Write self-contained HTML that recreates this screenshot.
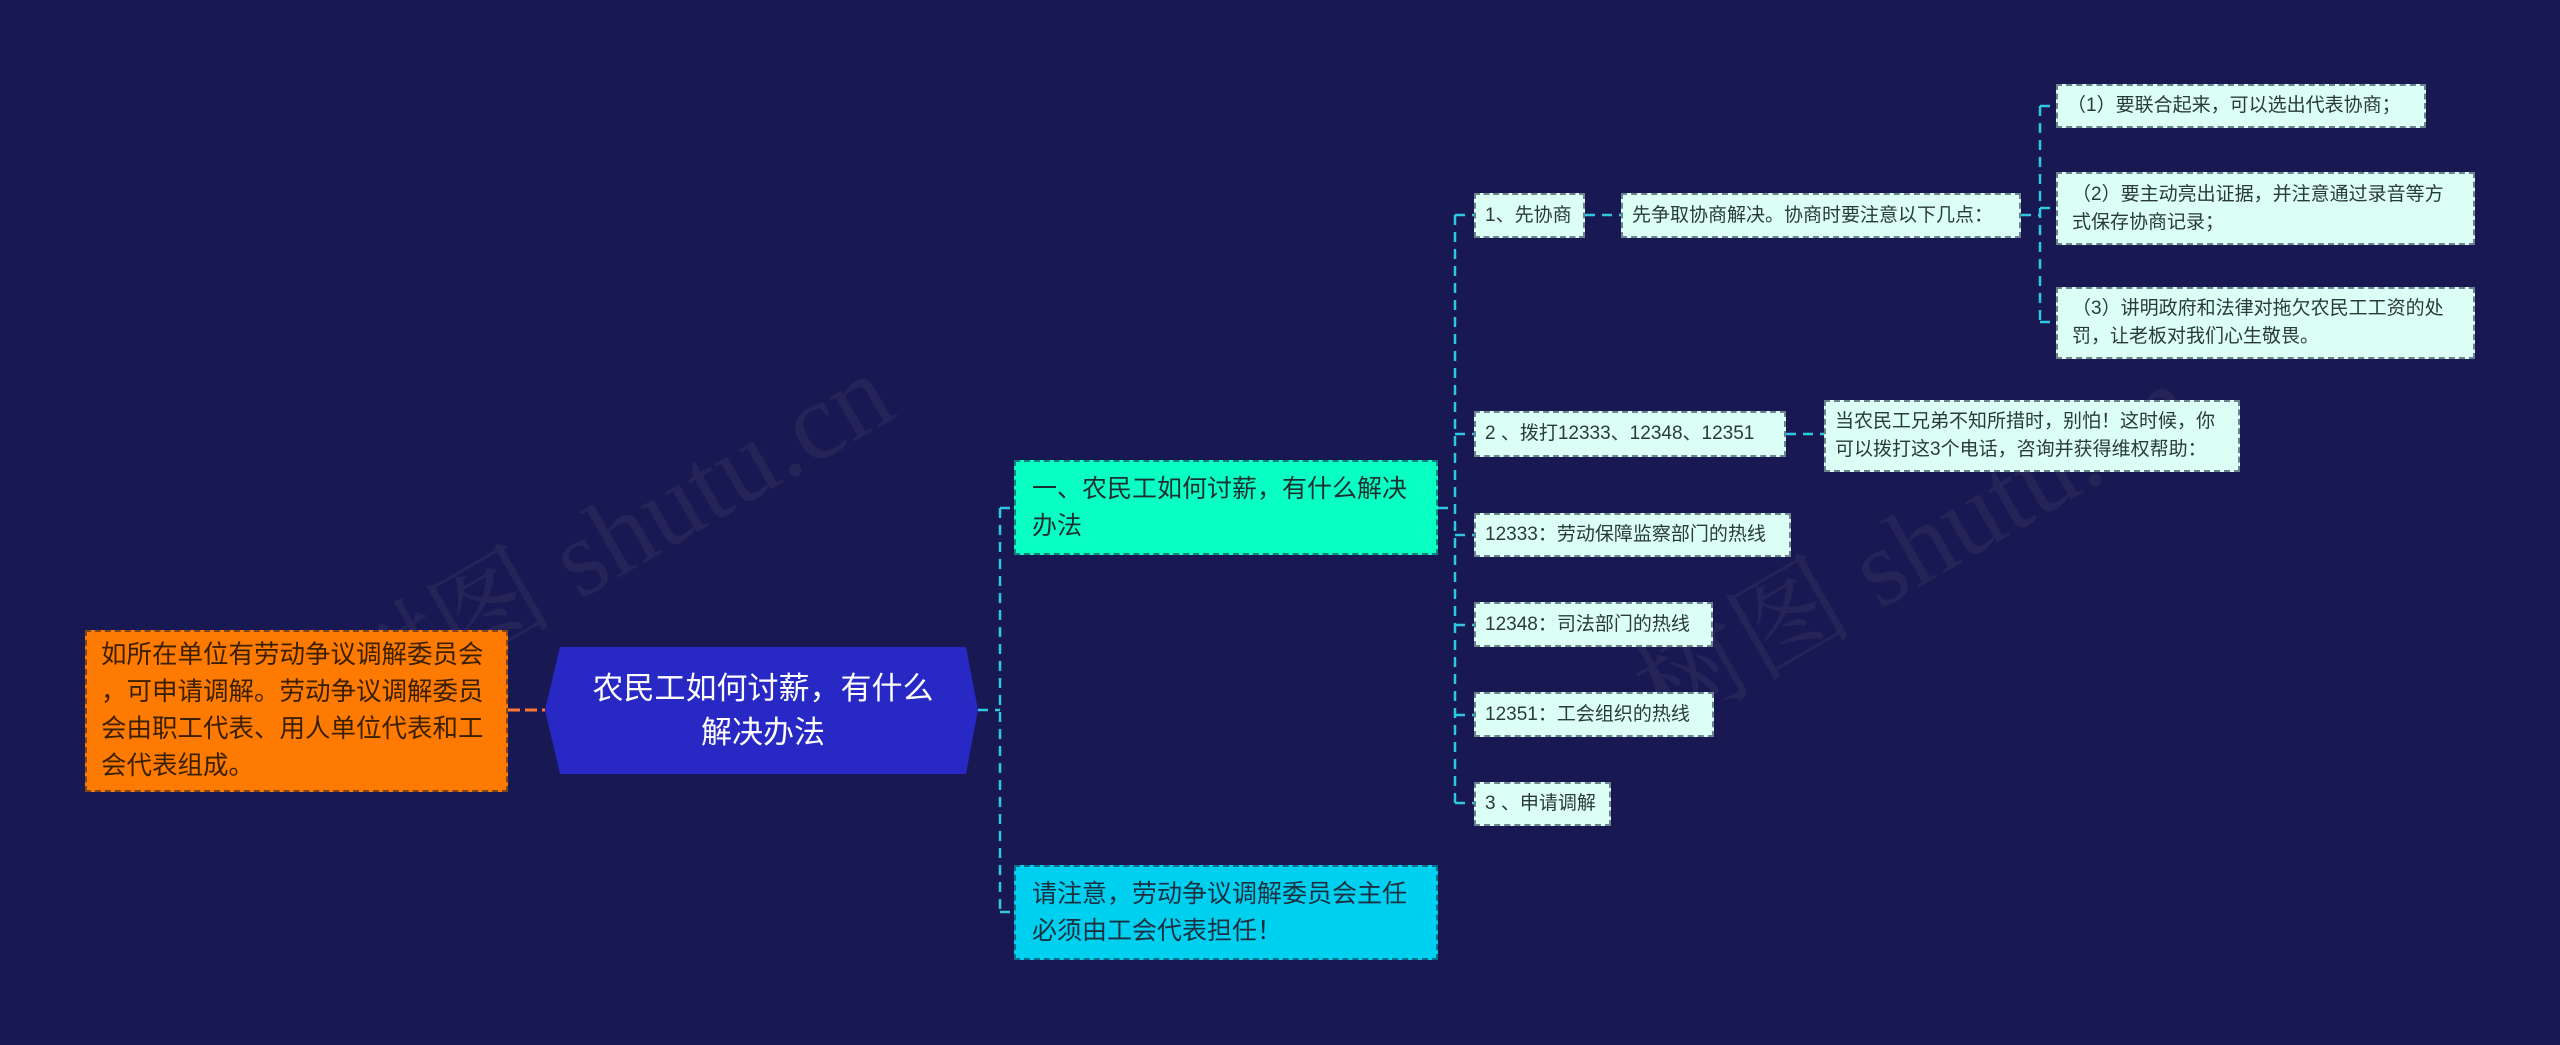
<!DOCTYPE html>
<html><head><meta charset="utf-8"><style>
body{margin:0;width:2560px;height:1045px;background:#181852;overflow:hidden;position:relative;font-family:"Liberation Sans","Noto Sans CJK SC",sans-serif}
.n{position:absolute;box-sizing:border-box;border:2px dashed rgba(20,30,60,0.55);display:flex;align-items:center;padding:0 14px;line-height:1.45}
.l{background:#dcfff5;color:#2a3a3a;font-size:19px;padding:0 9px}
.s{white-space:nowrap}
svg{position:absolute;left:0;top:0}
.wm{position:absolute;font-family:"Liberation Serif","Noto Serif CJK SC",serif;font-size:110px;color:rgba(120,120,140,0.12);transform:rotate(-30deg);white-space:nowrap}
</style></head><body>
<div class="wm" style="left:300px;top:450px">树图 shutu.cn</div>
<div class="wm" style="left:1600px;top:460px">树图 shutu.cn</div>
<svg width="2560" height="1045">
<g fill="none" stroke="#2ec8e0" stroke-width="2.5" stroke-dasharray="10,7">
<path d="M978 710 H1000 M1000 508 V912 M1000 508 H1014 M1000 912 H1014"/>
<path d="M1438 508 H1455 M1455 215 V803 M1455 215 H1474 M1455 434 H1474 M1455 535 H1474 M1455 625 H1474 M1455 715 H1474 M1455 803 H1474"/>
<path d="M1585 215 H1621 M2021 215 H2040 M2040 106 V322 M2040 106 H2056 M2040 208 H2056 M2040 322 H2056"/>
<path d="M1786 434 H1824"/>
</g>
<path d="M508 710 H545" stroke="#ff7a30" stroke-width="3" stroke-dasharray="12,5"/>
<polygon points="560,647 966,647 978,710 966,774 560,774 545,710" fill="#2828c4"/>
</svg>
<div class="n s" style="left:85px;top:630px;width:423px;height:162px;background:#ff7a00;color:#3a2000;font-size:25.5px;padding:0 10px 0 14px">如所在单位有劳动争议调解委员会<br>，可申请调解。劳动争议调解委员<br>会由职工代表、用人单位代表和工<br>会代表组成。</div>
<div style="position:absolute;left:560px;top:647px;width:406px;height:127px;display:flex;align-items:center;justify-content:center;text-align:center;color:#fff;font-size:31px;line-height:1.4">农民工如何讨薪，有什么<br>解决办法</div>
<div class="n" style="left:1014px;top:460px;width:424px;height:95px;background:#0affc4;color:#1a3030;font-size:25px;padding:0 16px">一、农民工如何讨薪，有什么解决办法</div>
<div class="n" style="left:1014px;top:865px;width:424px;height:95px;background:#00d0f0;color:#1a3040;font-size:25px;padding:0 16px">请注意，劳动争议调解委员会主任必须由工会代表担任！</div>
<div class="n l s" style="left:1474px;top:193px;width:111px;height:45px">1、先协商</div>
<div class="n l s" style="left:1621px;top:193px;width:400px;height:45px">先争取协商解决。协商时要注意以下几点：</div>
<div class="n l s" style="left:2056px;top:84px;width:370px;height:44px">（1）要联合起来，可以选出代表协商；</div>
<div class="n l" style="left:2056px;top:172px;width:419px;height:73px;padding:0 14px">（2）要主动亮出证据，并注意通过录音等方式保存协商记录；</div>
<div class="n l" style="left:2056px;top:287px;width:419px;height:72px;padding:0 14px">（3）讲明政府和法律对拖欠农民工工资的处罚，让老板对我们心生敬畏。</div>
<div class="n l s" style="left:1474px;top:411px;width:312px;height:46px">2 、拨打12333、12348、12351</div>
<div class="n l" style="left:1824px;top:400px;width:416px;height:72px">当农民工兄弟不知所措时，别怕！这时候，你可以拨打这3个电话，咨询并获得维权帮助：</div>
<div class="n l s" style="left:1474px;top:513px;width:317px;height:44px">12333：劳动保障监察部门的热线</div>
<div class="n l s" style="left:1474px;top:602px;width:239px;height:45px">12348：司法部门的热线</div>
<div class="n l s" style="left:1474px;top:692px;width:240px;height:45px">12351：工会组织的热线</div>
<div class="n l s" style="left:1474px;top:782px;width:137px;height:44px">3 、申请调解</div>
</body></html>
